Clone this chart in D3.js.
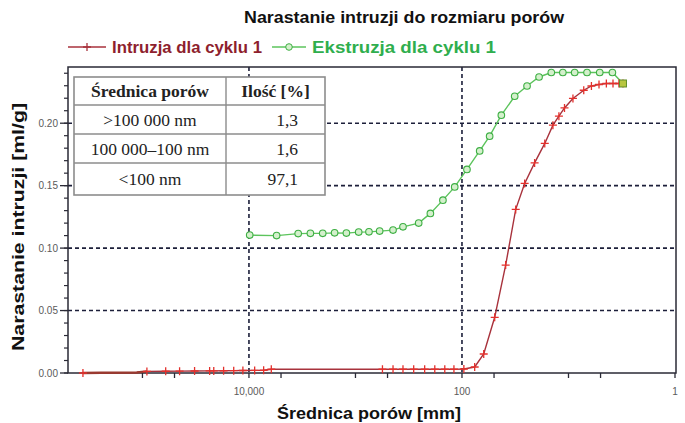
<!DOCTYPE html>
<html>
<head>
<meta charset="utf-8">
<script src="https://cdn.jsdelivr.net/npm/d3@7/dist/d3.min.js"></script>
<style>
  body { margin: 0; background: #fff; }
  svg text { font-family: "Liberation Sans", Arial, sans-serif; }
</style>
</head>
<body>
<div id="chart"></div>
<script>
(function () {
  "use strict";

  // intrusion, cycle 1 (pore diameter, cumulative volume ml/g)
  const intrDiam = [362000, 243000, 113000, 90800, 60500, 44800, 32400, 23400, 21400, 17300, 13900, 11400, 8840, 7280, 6170,
    558, 444, 358, 284, 224, 180, 145, 119, 96, 76, 62.5, 49.3, 38.9, 31.3, 25.8, 20.8, 16.7, 14.0, 12.3, 10.9, 9.08, 7.19,
    6.09, 5.17, 4.41, 3.82, 3.36, 3.08];
  const intrVol = [0.0000, 0.0002, 0.0004, 0.0013, 0.0014, 0.0015, 0.0016, 0.0017, 0.0017, 0.0018, 0.0019, 0.0020, 0.0021, 0.0022, 0.0030,
    0.0030, 0.0030, 0.0030, 0.0030, 0.0030, 0.0030, 0.0030, 0.0030, 0.0032, 0.0048, 0.0152, 0.0446, 0.0864, 0.1310, 0.1518, 0.1682, 0.1838, 0.1984, 0.2056, 0.2122, 0.2198, 0.2264,
    0.2298, 0.2310, 0.2318, 0.2318, 0.2318, 0.2318];
  // points hidden under the thick start of the line get no marker
  const intrNoMarker = [1, 2];

  // extrusion, cycle 1
  const extrDiam = [9840, 5500, 3450, 2650, 2030, 1570, 1217, 933, 747, 593, 444, 358, 255, 198, 151, 117, 89.8, 68.2, 55.0,
    42.7, 32.0, 24.5, 18.9, 14.5, 11.3, 8.75, 6.70, 5.09, 3.87, 3.08];
  const extrVol = [0.1104, 0.1100, 0.1116, 0.1118, 0.1118, 0.1122, 0.1120, 0.1128, 0.1130, 0.1136, 0.1144, 0.1170, 0.1200, 0.1278, 0.1384, 0.1490, 0.1630, 0.1778, 0.1896,
    0.2064, 0.2216, 0.2298, 0.2370, 0.2406, 0.2406, 0.2406, 0.2406, 0.2406, 0.2406, 0.2318];

  const xTicks = [100000, 50000, 10000, 5000, 1000, 500, 100, 50, 10, 5, 1];
  const xTickLabels = [10000, 100, 1];
  const yTicks = [0, 0.05, 0.1, 0.15, 0.2];
  const yMinor = d3.range(0, 0.245, 0.01);

  const tableHead = ["Średnica porów", "Ilość [%]"];
  const tableSizes = [">100 000 nm", "100 000–100 nm", "<100 nm"];
  const tableShares = ["1,3", "1,6", "97,1"];

  const title = "Narastanie intruzji do rozmiaru porów";
  const seriesNames = ["Intruzja dla cyklu 1", "Ekstruzja dla cyklu 1"];

  const width = 685;
  const height = 423;
  const plot = { left: 68, right: 676, top: 67, bottom: 373 };

  const red = "#a8323c";
  const redMark = "#e3302c";
  const green = "#5cc45c";
  const greenMark = "#3daf43";
  const gridColor = "#1c1f3a";

  const svg = d3
    .select("#chart")
    .append("svg")
    .attr("width", width)
    .attr("height", height);

  svg.append("rect").attr("width", width).attr("height", height).attr("fill", "#fff");

  // reversed log axis: big pores on the left
  const x = d3.scaleLog().domain([500000, 1]).range([plot.left, 675]);
  const y = d3.scaleLinear().domain([0, 0.245]).range([plot.bottom, plot.top]);

  // grid
  svg
    .append("g")
    .selectAll("line")
    .data(yTicks.slice(1))
    .join("line")
    .attr("x1", plot.left)
    .attr("x2", plot.right)
    .attr("y1", (d) => y(d))
    .attr("y2", (d) => y(d))
    .attr("stroke", gridColor)
    .attr("stroke-width", 1.6)
    .attr("stroke-dasharray", "4,3");

  svg
    .append("g")
    .selectAll("line")
    .data([10000, 100])
    .join("line")
    .attr("x1", (d) => x(d))
    .attr("x2", (d) => x(d))
    .attr("y1", plot.top)
    .attr("y2", plot.bottom)
    .attr("stroke", gridColor)
    .attr("stroke-width", 1.6)
    .attr("stroke-dasharray", "4,3");

  // frame
  svg
    .append("rect")
    .attr("x", plot.left)
    .attr("y", plot.top)
    .attr("width", plot.right - plot.left)
    .attr("height", plot.bottom - plot.top)
    .attr("fill", "none")
    .attr("stroke", "#2a2a36")
    .attr("stroke-width", 1.5);

  // x axis ticks
  const xAxis = svg.append("g").attr("transform", `translate(0,${plot.bottom})`);
  xAxis
    .selectAll("line")
    .data(xTicks)
    .join("line")
    .attr("x1", (d) => x(d))
    .attr("x2", (d) => x(d))
    .attr("y1", 0)
    .attr("y2", 5)
    .attr("stroke", "#2a2a36")
    .attr("stroke-width", 1.3);
  xAxis
    .selectAll("text")
    .data(xTickLabels)
    .join("text")
    .attr("x", (d) => x(d))
    .attr("y", 22)
    .attr("text-anchor", "middle")
    .attr("font-size", 10)
    .attr("fill", "#5a5a5a")
    .text((d) => d3.format(",")(d));

  // y axis ticks
  const yAxis = svg.append("g").attr("transform", `translate(${plot.left},0)`);
  yAxis
    .selectAll("line.minor")
    .data(yMinor)
    .join("line")
    .attr("class", "minor")
    .attr("x1", -4)
    .attr("x2", 0)
    .attr("y1", (d) => y(d))
    .attr("y2", (d) => y(d))
    .attr("stroke", "#2a2a36")
    .attr("stroke-width", 1.2);
  yAxis
    .selectAll("line.major")
    .data(yTicks)
    .join("line")
    .attr("class", "major")
    .attr("x1", -8)
    .attr("x2", 0)
    .attr("y1", (d) => y(d))
    .attr("y2", (d) => y(d))
    .attr("stroke", "#2a2a36")
    .attr("stroke-width", 1.3);
  yAxis
    .selectAll("text")
    .data(yTicks)
    .join("text")
    .attr("x", -10)
    .attr("y", (d) => y(d) + 3.5)
    .attr("text-anchor", "end")
    .attr("font-size", 10)
    .attr("fill", "#5a5a5a")
    .text((d) => d.toFixed(2));

  // series
  const line = d3
    .line()
    .x((d) => x(d[0]))
    .y((d) => y(d[1]));

  const intr = d3.zip(intrDiam, intrVol);
  const extr = d3.zip(extrDiam, extrVol);

  svg
    .append("path")
    .datum(extr)
    .attr("d", line)
    .attr("fill", "none")
    .attr("stroke", green)
    .attr("stroke-width", 1.4);

  svg
    .append("g")
    .selectAll("circle")
    .data(extr.slice(0, -1))
    .join("circle")
    .attr("cx", (d) => x(d[0]))
    .attr("cy", (d) => y(d[1]))
    .attr("r", 3.3)
    .attr("fill", "#d4f0cc")
    .attr("stroke", greenMark)
    .attr("stroke-width", 1.1);

  svg
    .append("path")
    .datum(intr)
    .attr("d", line)
    .attr("fill", "none")
    .attr("stroke", red)
    .attr("stroke-width", 1.4);

  // thicker start of the intrusion line near the axis
  svg
    .append("path")
    .datum(intr.slice(0, 4))
    .attr("d", line)
    .attr("fill", "none")
    .attr("stroke", "#9a3a30")
    .attr("stroke-width", 2.4);

  svg
    .append("g")
    .selectAll("path")
    .data(intr.filter((d, i) => !intrNoMarker.includes(i)))
    .join("path")
    .attr("transform", (d) => `translate(${x(d[0])},${y(d[1])})`)
    .attr("d", "M-4,0H4M0,-4V4")
    .attr("stroke", redMark)
    .attr("stroke-width", 1.3);

  // last shared point
  const last = extr[extr.length - 1];
  svg
    .append("rect")
    .attr("x", x(last[0]) - 3.5)
    .attr("y", y(last[1]) - 3.5)
    .attr("width", 7)
    .attr("height", 7)
    .attr("fill", "#b8c640")
    .attr("stroke", "#5f8f2a")
    .attr("stroke-width", 1);

  // table of pore classes
  const tbl = svg.append("g").attr("transform", "translate(74,77)");
  const colW = [152, 99];
  const rowH = [28, 29, 29, 32];
  const rowY = [0, 28, 57, 86, 118];
  const serif = '"Liberation Serif", "Times New Roman", serif';

  tbl
    .append("rect")
    .attr("width", colW[0] + colW[1])
    .attr("height", rowY[4])
    .attr("fill", "#fff")
    .attr("stroke", "#8c8c8c")
    .attr("stroke-width", 1.6);
  tbl
    .selectAll("line.row")
    .data(rowY.slice(1, 4))
    .join("line")
    .attr("class", "row")
    .attr("x1", 0)
    .attr("x2", colW[0] + colW[1])
    .attr("y1", (d) => d)
    .attr("y2", (d) => d)
    .attr("stroke", "#8c8c8c")
    .attr("stroke-width", 1.4);
  tbl
    .append("line")
    .attr("x1", colW[0])
    .attr("x2", colW[0])
    .attr("y1", 0)
    .attr("y2", rowY[4])
    .attr("stroke", "#8c8c8c")
    .attr("stroke-width", 1.4);

  tbl
    .selectAll("text.head")
    .data(tableHead)
    .join("text")
    .attr("class", "head")
    .attr("x", (d, i) => (i == 0 ? colW[0] / 2 : colW[0] + colW[1] / 2))
    .attr("y", rowH[0] / 2 + 6)
    .attr("text-anchor", "middle")
    .style("font-family", serif)
    .style("font-weight", "bold")
    .attr("font-size", 17.5)
    .attr("fill", "#222")
    .text((d) => d);

  tbl
    .selectAll("text.size")
    .data(tableSizes)
    .join("text")
    .attr("class", "size")
    .attr("x", colW[0] / 2)
    .attr("y", (d, i) => rowY[i + 1] + rowH[i + 1] / 2 + 6)
    .attr("text-anchor", "middle")
    .style("font-family", serif)
    .attr("font-size", 17.5)
    .attr("fill", "#222")
    .text((d) => d);

  tbl
    .selectAll("text.share")
    .data(tableShares)
    .join("text")
    .attr("class", "share")
    .attr("x", colW[0] + 72)
    .attr("y", (d, i) => rowY[i + 1] + rowH[i + 1] / 2 + 6)
    .attr("text-anchor", "end")
    .style("font-family", serif)
    .attr("font-size", 17.5)
    .attr("fill", "#222")
    .text((d) => d);

  // title and legend
  svg
    .append("text")
    .attr("x", 404)
    .attr("y", 23)
    .attr("text-anchor", "middle")
    .attr("font-size", 16.5)
    .attr("font-weight", "bold")
    .attr("fill", "#111")
    .attr("textLength", 320)
    .attr("lengthAdjust", "spacingAndGlyphs")
    .text(title);

  const legend = svg.append("g").attr("transform", "translate(0,47)");
  legend.append("line").attr("x1", 68).attr("x2", 106).attr("stroke", red).attr("stroke-width", 1.4);
  legend.append("path").attr("d", "M83,0H91M87,-4V4").attr("stroke", red).attr("stroke-width", 1.3);
  legend.append("line").attr("x1", 272).attr("x2", 306).attr("stroke", green).attr("stroke-width", 1.4);
  legend
    .append("circle")
    .attr("cx", 289)
    .attr("r", 3.3)
    .attr("fill", "#d4f0cc")
    .attr("stroke", greenMark);
  legend
    .selectAll("text")
    .data(seriesNames)
    .join("text")
    .attr("x", (d, i) => (i == 0 ? 112 : 312))
    .attr("y", 6)
    .attr("font-size", 16.5)
    .attr("font-weight", "bold")
    .attr("fill", (d, i) => (i == 0 ? "#8e1f2e" : "#2fae4e"))
    .attr("textLength", (d, i) => (i == 0 ? 150 : 184))
    .attr("lengthAdjust", "spacingAndGlyphs")
    .text((d) => d);

  // axis titles
  svg
    .append("text")
    .attr("x", 369)
    .attr("y", 419)
    .attr("text-anchor", "middle")
    .attr("font-size", 17)
    .attr("font-weight", "bold")
    .attr("fill", "#111")
    .attr("textLength", 184)
    .attr("lengthAdjust", "spacingAndGlyphs")
    .text("Średnica porów [mm]");

  svg
    .append("text")
    .attr("transform", "translate(24,227) rotate(-90)")
    .attr("text-anchor", "middle")
    .attr("font-size", 16)
    .attr("font-weight", "bold")
    .attr("fill", "#111")
    .attr("textLength", 248)
    .attr("lengthAdjust", "spacingAndGlyphs")
    .text("Narastanie intruzji [ml/g]");
})();
</script>
</body>
</html>
